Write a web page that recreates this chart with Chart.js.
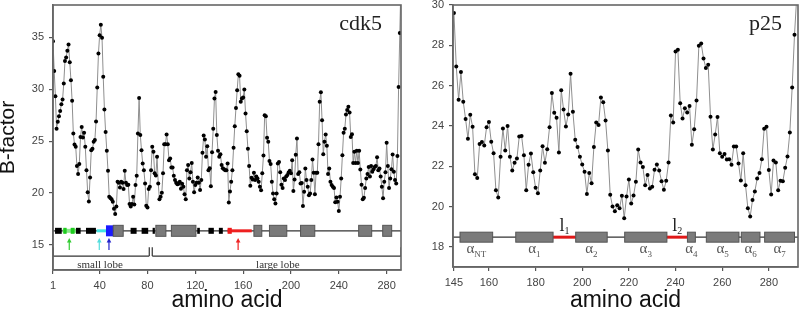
<!DOCTYPE html>
<html><head><meta charset="utf-8">
<script src="https://cdn.jsdelivr.net/npm/chart.js@4/dist/chart.umd.min.js"></script>
<style>
html,body{margin:0;padding:0;background:#fff;width:800px;height:310px;overflow:hidden}
#l{position:absolute;left:0;top:0}
#r{position:absolute;left:410px;top:0}
</style></head><body>
<canvas id="l" width="410" height="310"></canvas>
<canvas id="r" width="390" height="310"></canvas>
<script>
// ---------- DATA ----------
const cdk5FirstResidue = 1;
const cdk5Values = [
34.6,31.76,29.33,26.2,26.86,27.4,27.9,28.56,29.0,30.55,
32.7,33.05,33.7,34.3,32.6,30.87,28.88,25.74,24.68,24.45,
22.6,21.83,22.8,25.4,26.37,25.35,25.8,24.45,22.2,20.07,
19.2,21.5,24.13,24.26,24.93,25.1,26.9,30.16,33.43,35.2,
36.2,34.94,31.2,28.04,25.87,24.07,22.14,19.65,19.52,19.4,
19.17,18.5,17.98,18.7,21.1,21.0,20.55,21.1,21.0,20.4,
22.14,21.0,20.77,20.8,18.94,18.7,18.94,19.65,18.9,20.77,
21.66,25.74,29.16,25.6,24.13,22.85,22.2,20.93,18.78,18.62,
20.4,20.6,22.2,24.45,23.97,21.9,21.7,23.5,20.93,19.4,
19.65,20.03,21.9,24.7,24.7,25.64,24.7,23.17,
23.34,22.47,22.47,21.66,21.25,21.0,20.84,20.9,21.1,20.41,20.9,20.6,
19.9,19.42,22.2,22.7,21.4,22.0,22.9,21.1,20.07,20.77,21.0,
21.5,21.0,20.3,21.25,23.88,25.55,25.16,23.5,24.5,22.2,22.4,
20.67,23.94,26.2,29.1,29.74,25.58,24.07,23.5,23.75,22.7,
22.4,22.3,22.2,22.2,22.85,19.1,20.16,21.1,22.2,24.36,26.44,
28.2,29.9,31.44,31.3,28.78,29.1,29.2,29.97,27.66,25.96,
24.26,22.6,20.7,21.47,21.3,21.95,21.25,21.6,21.4,21.1,20.6,
20.27,21.9,23.62,27.5,27.4,25.32,24.93,23.1,22.8,21.1,
19.97,19.4,19.0,19.97,22.85,23.0,22.0,20.8,20.5,21.4,
21.25,21.6,21.73,21.99,22.14,21.9,23.17,20.2,21.3,23.68,
25.26,21.83,22.0,20.93,20.97,18.75,20.13,22.37,21.25,20.6,
19.8,19.97,21.25,23.24,21.95,19.9,21.95,21.95,24.7,28.78,
29.7,27.0,23.75,24.93,25.64,24.55,21.83,22.37,21.1,20.77,20.6,
20.5,19.13,19.58,19.17,18.27,19.65,21.4,23.65,25.8,26.2,27.57,28.0,
28.3,27.76,25.4,25.67,22.9,23.97,22.9,24.07,22.9,24.07,22.28,20.8,19.4,19.55,20.5,
21.4,21.83,22.5,21.6,22.6,22.05,22.3,
22.5,22.6,23.46,22.2,22.37,21.6,20.6,
19.5,21.1,22.0,24.84,22.6,20.5,21.4,
22.3,23.72,22.05,21.25,20.93,23.56,
30.2,35.4,40.5
];
const p25FirstResidue = 145;
const p25Values = [
29.6,26.95,25.3,26.67,25.2,24.34,23.36,24.55,23.96,21.6,
21.41,23.1,23.2,23.03,23.94,24.2,23.21,22.65,20.81,20.45,
22.47,23.87,22.78,24.0,22.47,21.79,22.17,22.38,23.47,23.5,
22.55,20.81,22.07,22.63,21.7,20.93,20.66,21.79,22.99,22.17,
22.84,23.94,25.63,24.65,24.4,22.68,25.77,24.81,23.97,24.57,
26.59,24.7,23.31,22.96,22.47,22.08,21.72,20.62,21.66,21.16,
22.96,24.17,24.05,25.41,25.18,24.27,22.78,20.58,20.0,19.77,
20.07,19.92,20.53,19.42,20.5,21.34,20.15,20.55,21.23,22.83,
22.18,21.96,21.06,21.57,20.89,20.98,21.82,22.08,21.79,21.26,
20.83,21.28,22.18,24.52,24.17,27.69,27.78,25.13,24.37,24.88,
24.67,24.99,23.06,23.84,25.26,27.98,28.09,27.35,26.87,27.03,
24.45,22.83,23.57,24.44,22.65,22.47,22.61,22.33,22.35,22.07,
22.98,22.98,22.13,21.29,22.65,21.06,19.92,19.5,20.32,20.75,
21.39,21.67,22.35,23.86,23.96,21.81,20.6,22.28,22.18,20.81,
21.28,21.25,21.92,22.48,23.67,25.91,28.52,30.5
];
const cdk5XTicks = [1,40,80,120,160,200,240,280];
const cdk5YTicks = [15,20,25,30,35];
const p25XTicks = [145,160,180,200,220,240,260,280];
const p25YTicks = [18,20,22,24,26,28,30];

// cdk5 secondary structure (residue ranges)
const cdk5Strands = [[2.7,8.3],[20.2,24.1],[28.6,36.9],[65.9,70.9],[75.1,80.6],[84.3,86.2],[121.6,123.8],[131,135.5],[139.7,143]];
const cdk5Helices = [[51.4,59.7],[87,95.4],[100,120.5],[169,175.6],[182,196.5],[208,219.9],[256.6,267.5],[276.7,284.2]];
const cdk5GlyLoop = [9.1,20.2];
const cdk5GlyBoxes = [[9.6,12.4],[15.8,19.1]];
const cdk5CyanLoop = [37.5,45.3];
const cdk5BlueHelix = [45.3,51.4];
const cdk5RedLoop = [147,167.2];
const cdk5RedBox = [147,150.5];
const cdk5Arrows = [[14.6,'#33cc33'],[39.7,'#55dddd'],[47.8,'#2222cc'],[155.8,'#ee2222']];
const cdk5Lobes = [['small lobe',1,81.5,40.3],['large lobe',84,292,189]];

// p25 secondary structure
const p25Helices = [[147.6,161.6,'NT'],[171.5,187.5,'1'],[197.2,210.7,'2'],[218.2,236.3,'3'],[245.1,248.5,'4'],[253.2,267.2,'5'],[268.2,276.2,'6'],[278.2,291,'7']];
const p25Loops = [[187.5,197.2,'1'],[236.3,245.1,'2']];

// ---------- HELPERS ----------
const SANS = '"Liberation Sans", Arial, sans-serif';
const SERIF = '"Liberation Serif", "Times New Roman", serif';
function toPoints(vals, start){ return vals.map((v,i)=>({x:start+i, y:v})); }

const framePlugin = {
  id:'frame',
  afterDraw(chart){
    const {ctx, chartArea:a} = chart;
    ctx.save(); ctx.strokeStyle='#666'; ctx.lineWidth=1.6;
    ctx.strokeRect(a.left, a.top, a.right-a.left, a.bottom-a.top);
    ctx.restore();
  }
};

function hbox(ctx, xs, ys, r0, r1, v, h, fill, stroke){
  const x0 = xs.getPixelForValue(r0), x1 = xs.getPixelForValue(r1), y = ys.getPixelForValue(v);
  ctx.fillStyle = fill; ctx.fillRect(x0, y-h/2, x1-x0, h);
  if (stroke){ ctx.strokeStyle = stroke; ctx.lineWidth = 1; ctx.strokeRect(x0, y-h/2, x1-x0, h); }
}
function hline(ctx, xs, ys, r0, r1, v, w, color){
  const y = ys.getPixelForValue(v);
  ctx.strokeStyle = color; ctx.lineWidth = w;
  ctx.beginPath(); ctx.moveTo(xs.getPixelForValue(r0), y); ctx.lineTo(xs.getPixelForValue(r1), y); ctx.stroke();
}

const cdk5Plugin = {
  id:'cdk5struct',
  afterDatasetsDraw(chart){
    const ctx = chart.ctx, xs = chart.scales.x, ys = chart.scales.y, a = chart.chartArea;
    const base = 16.37;
    ctx.save();
    ctx.beginPath(); ctx.rect(a.left, a.top, a.right-a.left, a.bottom-a.top); ctx.clip();
    hline(ctx, xs, ys, xs.min, xs.max, base, 1.2, '#333');
    hline(ctx, xs, ys, cdk5GlyLoop[0], cdk5GlyLoop[1], base, 4, '#8ae88a');
    hline(ctx, xs, ys, cdk5CyanLoop[0], cdk5CyanLoop[1], base, 3, '#44e4e4');
    hline(ctx, xs, ys, cdk5RedLoop[0], cdk5RedLoop[1], base, 3, '#ee2020');
    cdk5Strands.forEach(s=>hbox(ctx, xs, ys, s[0], s[1], base, 6, '#000'));
    cdk5GlyBoxes.forEach(s=>hbox(ctx, xs, ys, s[0], s[1], base, 6, '#1fcc1f'));
    hbox(ctx, xs, ys, cdk5RedBox[0], cdk5RedBox[1], base, 6, '#ee1a1a');
    hbox(ctx, xs, ys, cdk5BlueHelix[0], cdk5BlueHelix[1], base, 11, '#1a1aff');
    cdk5Helices.forEach(s=>hbox(ctx, xs, ys, s[0], s[1], base, 11, '#7a7a7a', '#555'));
    // arrows
    cdk5Arrows.forEach(([r,c])=>{
      const x = xs.getPixelForValue(r), yt = ys.getPixelForValue(15.67), yb = ys.getPixelForValue(14.52);
      ctx.strokeStyle = c; ctx.fillStyle = c; ctx.lineWidth = 1.2;
      ctx.beginPath(); ctx.moveTo(x, yb); ctx.lineTo(x, yt+3); ctx.stroke();
      ctx.beginPath(); ctx.moveTo(x, yt); ctx.lineTo(x-2.3, yt+4.5); ctx.lineTo(x+2.3, yt+4.5); ctx.closePath(); ctx.fill();
    });
    // lobes
    ctx.strokeStyle = '#333'; ctx.lineWidth = 1.2;
    const yl = ys.getPixelForValue(13.94), yk = ys.getPixelForValue(14.8);
    cdk5Lobes.forEach(([name,r0,r1,rc])=>{
      const x0 = xs.getPixelForValue(r0), x1 = xs.getPixelForValue(r1);
      ctx.beginPath(); ctx.moveTo(x0, yl); ctx.lineTo(x1, yl); ctx.stroke();
      ctx.beginPath(); ctx.moveTo(x0, yl); ctx.lineTo(x0, yk); ctx.moveTo(x1, yl); ctx.lineTo(x1, yk); ctx.stroke();
      ctx.fillStyle = '#333'; ctx.font = '11px ' + SERIF; ctx.textAlign = 'center'; ctx.textBaseline = 'alphabetic';
      ctx.fillText(name, xs.getPixelForValue(rc), ys.getPixelForValue(12.82));
    });
    ctx.restore();
    ctx.save();
    ctx.fillStyle = '#222'; ctx.font = '22px ' + SERIF; ctx.textAlign = 'right'; ctx.textBaseline = 'alphabetic';
    ctx.fillText('cdk5', a.right - 19, a.top + 25);
    ctx.restore();
  }
};

const p25Plugin = {
  id:'p25struct',
  afterDatasetsDraw(chart){
    const ctx = chart.ctx, xs = chart.scales.x, ys = chart.scales.y, a = chart.chartArea;
    const base = 18.48;
    ctx.save();
    hline(ctx, xs, ys, xs.min, xs.max, base, 1.2, '#333');
    p25Loops.forEach(l=>hline(ctx, xs, ys, l[0], l[1], base, 3, '#e01818'));
    p25Helices.forEach(h=>hbox(ctx, xs, ys, h[0], h[1], base, 10, '#7b7b7b', '#555'));
    // helix labels
    p25Helices.forEach(h=>{
      const cx = xs.getPixelForValue((h[0]+h[1])/2);
      const yb = ys.getPixelForValue(17.69);
      ctx.font = '15px ' + SERIF; const wa = ctx.measureText('α').width;
      ctx.font = '9px ' + SERIF; const ws = ctx.measureText(h[2]).width;
      const x0 = cx - (wa+ws)/2;
      ctx.fillStyle = '#555'; ctx.textAlign = 'left'; ctx.textBaseline = 'alphabetic';
      ctx.font = '15px ' + SERIF; ctx.fillText('α', x0, yb);
      ctx.font = '9px ' + SERIF; ctx.fillText(h[2], x0 + wa, yb + 4);
    });
    // loop labels
    p25Loops.forEach(l=>{
      const cx = xs.getPixelForValue((l[0]+l[1])/2);
      const yb = ys.getPixelForValue(18.78);
      ctx.font = '18px ' + SERIF; const wl = ctx.measureText('l').width;
      ctx.font = '10px ' + SERIF; const ws = ctx.measureText(l[2]).width;
      const x0 = cx - (wl+ws)/2;
      ctx.fillStyle = '#222'; ctx.textAlign = 'left'; ctx.textBaseline = 'alphabetic';
      ctx.font = '18px ' + SERIF; ctx.fillText('l', x0, yb);
      ctx.font = '10px ' + SERIF; ctx.fillText(l[2], x0 + wl, yb + 3);
    });
    ctx.fillStyle = '#222'; ctx.font = '22px ' + SERIF; ctx.textAlign = 'right';
    ctx.fillText('p25', a.right - 16, a.top + 25);
    ctx.restore();
  }
};

function makeChart(id, vals, start, xr, yr, xt, yt, yWidth, xHeight, padRight, yTitle, plugin){
  return new Chart(document.getElementById(id), {
    type:'line',
    data:{ datasets:[{
      data: toPoints(vals, start),
      borderColor:'#8f8f8f', borderWidth:1, tension:0,
      pointRadius:2, pointBackgroundColor:'#000', pointBorderWidth:0, pointHoverRadius:2
    }]},
    options:{
      responsive:false, animation:false, events:[],
      layout:{ padding:{ left:0, top:5, right:padRight, bottom:0 } },
      plugins:{ legend:{display:false}, tooltip:{enabled:false} },
      scales:{
        x:{ type:'linear', min:xr[0], max:xr[1],
          afterBuildTicks:(s)=>{ s.ticks = xt.map(v=>({value:v})); },
          afterFit:(s)=>{ s.height = xHeight; s.paddingLeft = 0; s.paddingRight = 0; },
          ticks:{ color:'#444', font:{family:SANS, size:11}, padding:5, maxRotation:0, autoSkip:false,
                  callback:(v)=>String(v) },
          grid:{ display:true, drawOnChartArea:false, drawTicks:true, tickLength:4, color:'#555', lineWidth:1.2 },
          border:{ display:true, color:'#666', width:1.6 },
          title:{ display:true, text:'amino acid', color:'#111', font:{family:SANS, size:23, lineHeight:0.8}, padding:{top:0,bottom:0} }
        },
        y:{ type:'linear', min:yr[0], max:yr[1],
          afterBuildTicks:(s)=>{ s.ticks = yt.map(v=>({value:v})); },
          afterFit:(s)=>{ s.width = yWidth; s.paddingTop = 0; s.paddingBottom = 0; },
          ticks:{ color:'#444', font:{family:SANS, size:11}, padding:5, autoSkip:false, callback:(v)=>String(v) },
          grid:{ display:true, drawOnChartArea:false, drawTicks:true, tickLength:4, color:'#555', lineWidth:1.2 },
          border:{ display:true, color:'#666', width:1.6 },
          title:{ display: !!yTitle, text: yTitle || '', color:'#111', font:{family:SANS, size:21, lineHeight:0.8}, padding:{top:0,bottom:0} }
        }
      }
    },
    plugins:[plugin, framePlugin]
  });
}

makeChart('l', cdk5Values, cdk5FirstResidue, [1,292], [12.6,38.1], cdk5XTicks, cdk5YTicks, 53, 40, 9, 'B-factor', cdk5Plugin);
makeChart('r', p25Values, p25FirstResidue, [144.6,292.5], [17,30], p25XTicks, p25YTicks, 43, 43, 2, null, p25Plugin);
</script>
</body></html>
